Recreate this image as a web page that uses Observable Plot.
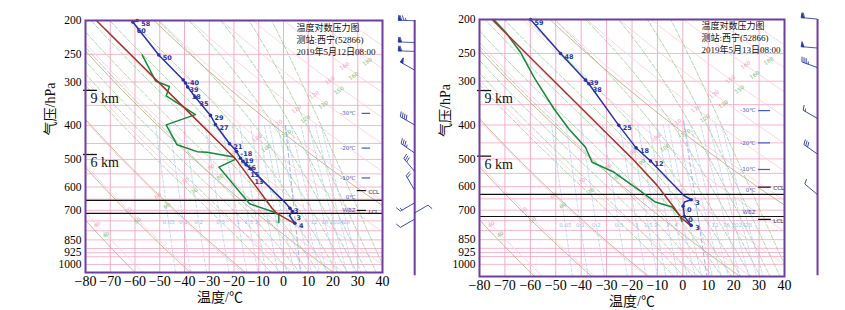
<!DOCTYPE html>
<html><head><meta charset="utf-8">
<script src="https://cdn.jsdelivr.net/npm/d3@7"></script>
<script src="https://cdn.jsdelivr.net/npm/@observablehq/plot@0.6"></script>
<style>
html,body{margin:0;padding:0;background:#fff;}
#wrap{display:flex;width:845px;height:310px;overflow:hidden;}
#wrap > div{flex:none;}
g[aria-label^="y-axis"] text{font-size:11.5px;}
</style></head><body><div id="wrap"><div id="p1"></div><div id="p2"></div></div>
<script>
// ---------- shared axis / diagram values ----------
const tempTicks = [-80,-70,-60,-50,-40,-30,-20,-10,0,10,20,30,40];
const pressureTicks = [200,250,300,400,500,600,700,850,925,1000];
const pressureGrid = [200,250,300,350,400,450,500,550,600,650,700,750,800,850,900,925,950,1000];
const dryThetaC = [-60,-40,-20,0,20,40,60,80,100,120,140,160,180,200];
const dryLabelP = [770,700,636,578,526,478,435,395,359,327,297,270,246];
const dryLabelText = ["40","50","60","70","80","90","100","110","120","130","150","160","180"];
const tanThetaK = [210,232,254,289,350];
const moistT1000 = [-8,-4,0,4,8,12,16,20,24,28,32,36,40];
const mixRatios = [0.05,0.1,0.2,0.5,1,1.5,2,3,4,5,6,8,10,12,16,20,24,28];
const mixLabeled = [0.05,0.1,0.2,0.5,1,1.5,2,3,4,12,16,20,24,28];

// ---------- 2019-05-12 08:00 ----------
const leftTitle = "温度对数压力图\n测站:西宁(52866)\n2019年5月12日08:00";
const leftTemp = [
 {p:200,T:-59.1,label:"58"},{p:202,T:-60.9,label:"60"},{p:251,T:-50.4,label:"50"},
 {p:296,T:-40.5,label:"-40"},{p:302,T:-39.6,label:"39"},{p:310,T:-38.7,label:"38"},
 {p:332,T:-35.6,label:"35"},{p:374,T:-29.5,label:"29"},{p:397,T:-27.5,label:"27"},
 {p:451,T:-21.8,label:"21"},{p:474,T:-19.0,label:"-18"},{p:496,T:-17.4,label:"19"},
 {p:506,T:-16.4,label:"16"},{p:518,T:-15.1,label:"15"},{p:532,T:-13.3,label:"13"},
 {p:668,T:1.0,label:""},{p:690,T:2.6,label:"3"},{p:705,T:3.6,label:"3"},
 {p:725,T:2.4,label:""},{p:762,T:4.6,label:"4"}
];
const leftDew = [
 {p:251,T:-57.1},{p:298,T:-51.7},{p:309,T:-46.1},{p:329,T:-47.4},{p:372,T:-35.6},
 {p:398,T:-47.4},{p:454,T:-43.0},{p:475,T:-34.9},{p:477,T:-30.9},{p:492,T:-20.1},
 {p:500,T:-19.5},{p:526,T:-26.1},{p:670,T:-13.7},{p:705,T:-4.6},{p:718,T:-1.9},{p:758,T:-1.9}
];
const leftState = [
 {p:200,T:-75.6},{p:374,T:-37.0},{p:498,T:-19.4},{p:690,T:-4.6},{p:715,T:-2.5},{p:761,T:4.2}
];
const leftLevels = [655,714];
const leftHeights = [{text:"9 km",p:317},{text:"6 km",p:484}];
const leftMarks = [
 {label:"-30℃",p:369,kind:"iso"},{label:"-20℃",p:464,kind:"iso"},{label:"-10℃",p:565,kind:"iso"},
 {label:"0℃",p:642,kind:"txt"},{label:"WBZ",p:701,kind:"txt"},
 {label:"CCL",p:614,kind:"cl"},{label:"LCL",p:700,kind:"cl"}
];
const leftWind = [
 {p:201,dir:272,speed:30},{p:232,dir:272,speed:24},{p:246,dir:272,speed:24},
 {p:278,dir:300,speed:20},{p:399,dir:300,speed:16},{p:480,dir:305,speed:14},
 {p:541,dir:320,speed:12},{p:612,dir:330,speed:8},{p:669,dir:240,speed:6},
 {p:715,dir:60,speed:4},{p:745,dir:240,speed:4}
];
const leftWetBulb = [{p:400,T:0.8},{p:1054,T:6.9}];

// ---------- 2019-05-13 08:00 ----------
const rightTitle = "温度对数压力图\n测站:西宁(52866)\n2019年5月13日08:00";
const rightTemp = [
 {p:200,T:-59.9,label:"59"},{p:250,T:-48.1,label:"48"},{p:298,T:-38.3,label:"39"},
 {p:305,T:-37.0,label:"38"},{p:401,T:-25.2,label:"25"},{p:465,T:-18.4,label:"18"},
 {p:507,T:-12.7,label:"12"},{p:636,T:0.4,label:""},{p:654,T:3.3,label:"3"},
 {p:664,T:0.6,label:""},{p:682,T:0.1,label:"0"},{p:706,T:0.4,label:""},
 {p:730,T:0.6,label:"0"},{p:774,T:3.3,label:"3"}
];
const rightDew = [
 {p:200,T:-74.4},{p:217,T:-69.8},{p:248,T:-63.9},{p:292,T:-58.6},{p:359,T:-50.8},
 {p:410,T:-44.9},{p:463,T:-38.3},{p:511,T:-35.7},{p:545,T:-27.2},{p:608,T:-18.0},
 {p:664,T:-10.8},{p:686,T:-4.2},{p:725,T:-1.2},{p:754,T:-0.3}
];
const rightState = [
 {p:200,T:-75.0},{p:415,T:-31.1},{p:499,T:-19.9},{p:595,T:-10.1},{p:686,T:-3.6},{p:733,T:-0.9},{p:778,T:3.3}
];
const rightLevels = [631,730];
const rightHeights = [{text:"9 km",p:319},{text:"6 km",p:491}];
const rightMarks = [
 {label:"-30℃",p:364,kind:"iso"},{label:"-20℃",p:450,kind:"iso"},{label:"-10℃",p:536,kind:"iso"},
 {label:"0℃",p:615,kind:"txt"},{label:"WBZ",p:710,kind:"txt"},
 {label:"CCL",p:602,kind:"cl"},{label:"LCL",p:744,kind:"cl"}
];
const rightWind = [
 {p:200,dir:275,speed:24},{p:242,dir:275,speed:20},{p:275,dir:290,speed:14},
 {p:384,dir:300,speed:6},{p:485,dir:305,speed:12},{p:633,dir:310,speed:4}
];
const rightWetBulb = [{p:390,T:0.3},{p:1083,T:9.5}];

// ---------- styling ----------
const C = {purple:"#6f3c9f", blue:"#2434a2", green:"#13893a", brown:"#a3322b",
  grid:"#f5a3c0", dry:"#f9cbda", tan:"#c4ab8a", moist:"#86c886", mix:"#b0cbec", mark:"#3b5cc9"};
const SERIF = "'Liberation Serif','Noto Sans CJK SC',serif";
const SANS = "'DejaVu Sans',sans-serif";

// ---------- reference-line builders (thermodynamic diagram structure) ----------
function dryCurve(thetaK, pMax, id){
  const out=[];
  for(let p=195;p<=pMax+10;p+=8){const T=thetaK*Math.pow(p/1000,0.286)-273.15; if(T<60&&T>-100) out.push({p,T,id});}
  return out;
}
function dTdp(T,p){
  const Tc=T-273.15, es=6.112*Math.exp(17.67*Tc/(Tc+243.5)), rs=0.622*es/(p-es);
  const Rd=287.04, cp=1005.7, Lv=2.501e6;
  return (Rd*T+Lv*rs)/(p*(cp+Lv*Lv*rs*0.622/(Rd*T*T)));
}
function moistCurve(T0, pMax, id){
  const step=5, up=[], down=[];
  let t=T0+273.15, p=1000;
  up.push({p,T:T0,id});
  while(p>195){const k1=dTdp(t,p), k2=dTdp(t-k1*step,p-step); t-=step*(k1+k2)/2; p-=step; up.push({p,T:t-273.15,id});}
  t=T0+273.15; p=1000;
  while(p<pMax+5){const k1=dTdp(t,p), k2=dTdp(t+k1*step,p+step); t+=step*(k1+k2)/2; p+=step; down.push({p,T:t-273.15,id});}
  return down.reverse().concat(up).filter(d=>d.T<60&&d.T>-100);
}
function tdMix(w,p){
  const e=w*p/(622+w), l=Math.log(e/6.112);
  let t=243.5*l/(17.67-l);
  if(t<0) t=272.62*l/(22.46-l);
  return t;
}
function mixCurve(w,pMax,id){
  const out=[];
  for(let p=400;p<=pMax+10;p+=20) out.push({p,T:tdMix(w,p),id});
  return out;
}

function barbMark(winds, windT, fallback){
  return (index, scales) => {
    const sx = (scales && scales.x) ? scales.x : fallback.x;
    const sy = (scales && scales.y) ? scales.y : fallback.y;
    const g = d3.create("svg:g").attr("stroke",C.blue).attr("fill",C.blue).attr("stroke-width",0.8);
    const x0 = sx(windT);
    for(const w of winds){
      const y0 = sy(w.p), L=16;
      let d=`M0,0V${-L}`, s=w.speed, pos=-L;
      const flags=Math.floor(s/20); s-=flags*20;
      const longs=Math.floor(s/4); s-=longs*4;
      for(let i=0;i<flags;i++){d+=`M0,${pos}L5,${pos+0.5}L0,${pos+3}Z`; pos+=3.5;}
      for(let i=0;i<longs;i++){d+=`M0,${pos}L5,${pos-1.8}`; pos+=2.2;}
      if(s>=2){ if(pos===-L) pos+=2.2; d+=`M0,${pos}L2.6,${pos-0.9}`; }
      g.append("path").attr("d",d).attr("transform",`translate(${x0},${y0}) rotate(${w.dir})`);
    }
    return g.node();
  };
}

const fmtT = d => d<0 ? "\u2212"+Math.abs(d) : String(d);

// place curve labels just right of their points, pushed down so they do not collide
function layoutLabels(temp, ys){
  let last=-Infinity;
  return temp.filter(d=>d.label).map(d=>{
    let py=ys(d.p)+3;
    if(py<last+7) py=last+7;
    last=py;
    return {...d, pLab: ys.invert(py)};
  });
}

function makePanel(cfg){
  const yMax=cfg.yMax;
  const W=cfg.width, H=310;
  const fallback = {
    x: d3.scaleLinear([-80,40],[cfg.ml, W-cfg.mr]),
    y: d3.scaleLog([200,yMax],[cfg.mt, H-cfg.mb])
  };
  const pinkDry = dryThetaC.flatMap((tc,i)=>dryCurve(tc+273.15,yMax,i));
  const tanDry = tanThetaK.flatMap((th,i)=>dryCurve(th,yMax,i));
  const moist = moistT1000.flatMap((t,i)=>moistCurve(t,yMax,i));
  const mix = mixRatios.flatMap((w,i)=>mixCurve(w,yMax,i));
  const mixLab = mixLabeled.map(w=>({p:cfg.mixLabelP,T:tdMix(w,cfg.mixLabelP),text:String(w)}));
  const dryLab = dryLabelP.map((p,k)=>({p,T:(dryThetaC[k]+273.15)*Math.pow(p/1000,0.286)-273.15,text:dryLabelText[k]}))
      .filter(d=>d.T>-79&&d.T<36);
  const tempLab = layoutLabels(cfg.temp, fallback.y);
  const iso = cfg.marks.filter(d=>d.kind==="iso"), txt = cfg.marks.filter(d=>d.kind!=="cl"), cl = cfg.marks.filter(d=>d.kind==="cl");
  return Plot.plot({
    width:W, height:H,
    marginLeft:cfg.ml, marginRight:cfg.mr, marginTop:cfg.mt, marginBottom:cfg.mb,
    style:{fontFamily:SERIF, fontSize:"14px", background:"transparent", overflow:"visible"},
    x:{domain:[-80,40], ticks:tempTicks, tickSize:0, tickPadding:4, tickFormat:fmtT, label:null},
    y:{type:"log", domain:[200,yMax], reverse:true, ticks:pressureTicks, tickSize:0, tickPadding:4, tickFormat:d=>String(d), label:null},
    marks:[
      Plot.ruleY(pressureGrid,{stroke:C.grid,strokeWidth:0.8}),
      Plot.ruleX(tempTicks,{stroke:C.grid,strokeWidth:0.9}),
      Plot.line(pinkDry,{x:"T",y:"p",z:"id",stroke:C.dry,strokeWidth:0.8,clip:true}),
      Plot.line(tanDry,{x:"T",y:"p",z:"id",stroke:C.tan,strokeWidth:0.9,clip:true}),
      Plot.line(moist,{x:"T",y:"p",z:"id",stroke:C.moist,strokeWidth:0.7,strokeDasharray:"4,2",clip:true}),
      Plot.line(mix,{x:"T",y:"p",z:"id",stroke:C.mix,strokeWidth:0.7,strokeDasharray:"3,2",clip:true}),
      Plot.line(cfg.wetBulb,{x:"T",y:"p",stroke:"#8aa6dc",strokeWidth:0.8,strokeDasharray:"4,3",clip:true}),
      Plot.text(mixLab,{x:"T",y:"p",text:"text",fontSize:5.5,fill:"#a3c0e4",fontFamily:SANS}),
      Plot.text(dryLab,{x:"T",y:"p",text:"text",fontSize:5.5,fill:"#f2a0ba",fontFamily:SANS,rotate:-35}),
      Plot.text(dryLab,{x:"T",y:"p",text:"text",dx:9,dy:10,fontSize:5.5,fill:"#7cc27c",fontFamily:SANS,rotate:-35}),
      Plot.ruleY(cfg.levels,{stroke:"#111",strokeWidth:1.2}),
      Plot.ruleY(cfg.heights,{y:"p",x1:-80.8,x2:-75.2,stroke:"#111",strokeWidth:1.3}),
      Plot.text(cfg.heights,{x:-80,y:"p",text:"text",dx:5,dy:cfg.kmDy,textAnchor:"start",fontSize:14,fill:"#111"}),
      Plot.line(cfg.dew,{x:"T",y:"p",stroke:C.green,strokeWidth:1.5}),
      Plot.line(cfg.state,{x:"T",y:"p",stroke:C.brown,strokeWidth:1.5}),
      Plot.line(cfg.temp,{x:"T",y:"p",stroke:C.blue,strokeWidth:1.5}),
      Plot.dot(cfg.temp.filter(d=>d.label),{x:"T",y:"p",r:1.8,fill:C.blue}),
      Plot.text(tempLab,{x:"T",y:"pLab",text:"label",dx:4,textAnchor:"start",fontSize:6.5,fontWeight:"bold",fill:C.blue,fontFamily:SANS}),
      Plot.text(txt,{x:cfg.markTextT,y:"p",text:"label",textAnchor:"end",fontSize:5.5,fill:C.mark,fontFamily:SANS}),
      Plot.ruleY(iso,{y:"p",x1:cfg.isoX1,x2:cfg.isoX2,stroke:C.mark,strokeWidth:1.2}),
      Plot.ruleY(cl,{y:"p",x1:cfg.clX1,x2:cfg.clX2,stroke:"#111",strokeWidth:1.2}),
      Plot.ruleX([53],{y1:200,y2:1077,stroke:C.purple,strokeWidth:2}),
      barbMark(cfg.wind,53,fallback),
      Plot.frame({stroke:C.purple,strokeWidth:2}),
      Plot.text(cl,{x:cfg.clTextT,y:"p",text:"label",textAnchor:"start",dy:1.5,fontSize:5.5,fill:"#111",fontFamily:SANS}),
      Plot.text([cfg.title],{text:d=>d,frameAnchor:"top-left",dx:cfg.titleDx,dy:cfg.titleDy,lineAnchor:"top",textAnchor:"start",fontSize:9,lineHeight:1.33,fill:"#111"}),
      Plot.text(["温度/℃"],{text:d=>d,frameAnchor:"bottom",dx:cfg.xlabDx,dy:29,fontSize:14,fill:"#111"}),
      Plot.text(["气压/hPa"],{text:d=>d,frameAnchor:"left",dx:cfg.ylabDx,dy:-11,rotate:-90,fontSize:14,fill:"#111"})
    ]
  });
}

const leftCfg = {width:422, ml:85, mr:40, mt:20, mb:38, yMax:1054,
  temp:leftTemp, dew:leftDew, state:leftState, levels:leftLevels, heights:leftHeights, kmDy:8,
  marks:leftMarks, wind:leftWind, wetBulb:leftWetBulb, title:leftTitle, mixLabelP:755,
  markTextT:29.1, isoX1:31.8, isoX2:35.2, clX1:29.8, clX2:33.5, clTextT:34.3,
  titleDx:211, titleDy:2, xlabDx:-14, ylabDx:-35};
const rightCfg = {width:423, ml:57, mr:61, mt:19, mb:34, yMax:1083,
  temp:rightTemp, dew:rightDew, state:rightState, levels:rightLevels, heights:rightHeights, kmDy:8,
  marks:rightMarks, wind:rightWind, wetBulb:rightWetBulb, title:rightTitle, mixLabelP:774,
  markTextT:28.6, isoX1:29.8, isoX2:34.5, clX1:29.8, clX2:34.8, clTextT:35.6,
  titleDx:222, titleDy:1, xlabDx:0, ylabDx:-34};

document.getElementById("p1").appendChild(makePanel(leftCfg));
document.getElementById("p2").appendChild(makePanel(rightCfg));
</script></body></html>
